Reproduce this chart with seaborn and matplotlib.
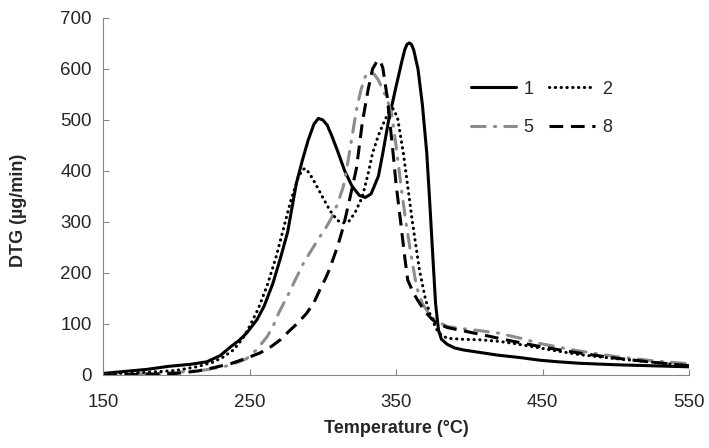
import matplotlib

matplotlib.use("Agg")
import matplotlib.pyplot as plt
import pandas as pd
import seaborn as sns

# DTG curves, one temperature/value pair list per sample
temp_1 = [150, 165, 180, 195, 210, 221, 230, 237, 243, 248, 255, 260, 266, 271, 276,
          282, 286, 290, 294, 297, 300, 303, 306, 310, 315, 320, 325, 329, 333, 338,
          341, 345, 350, 354, 356, 357.5, 359, 360.5, 362, 365, 368, 371, 373, 375, 377,
          379, 381, 385, 390, 396, 410, 419, 435, 448, 460, 475, 500, 525, 550]
dtg_1 = [3, 7, 11, 17, 21, 26, 38, 55, 68, 82, 108, 135, 180, 228, 280,
         376, 420, 460, 492, 503, 500, 490, 470, 440, 400, 370, 352, 348, 355, 390,
         435, 500, 565, 615, 638, 648, 651, 648, 638, 600, 530, 435, 340, 239, 140,
         88, 70, 60, 53, 49, 43, 39, 34, 29, 26, 23, 20, 18, 16]

temp_2 = [150, 170, 190, 200, 214, 225, 232, 239, 245, 250, 256, 262, 268, 273, 278,
          283, 286, 288, 291, 295, 300, 305, 310, 314, 318, 322, 327, 331, 334, 338,
          342, 345, 348, 351, 355, 358, 361, 364, 366, 370, 373, 376, 378, 381, 385,
          395, 407, 420, 430, 448, 460, 475, 500, 525, 550]
dtg_2 = [2, 4, 7, 9, 16, 25, 35, 49, 70, 95, 130, 175, 230, 285, 340,
         385, 402, 405, 395, 375, 348, 322, 303, 298, 302, 318, 349, 395, 435, 470,
         497, 515, 522, 505, 435, 370, 304, 245, 206, 150, 121, 100, 88, 78, 72,
         70, 69, 66, 62, 53, 47, 40, 32, 25, 18]

temp_5 = [150, 175, 200, 220, 235, 243, 248, 255, 262, 266, 270, 276, 281, 287, 293,
          298, 302, 306, 310, 314, 317, 320, 323, 326, 329, 332, 335, 338, 341, 344,
          347, 350, 354, 357, 360, 364, 368, 373, 378, 385, 395, 407, 420, 435, 448,
          460, 475, 500, 525, 550]
dtg_5 = [0, 2, 5, 10, 18, 26, 32, 50, 75, 95, 122, 155, 185, 220, 248,
         271, 288, 308, 335, 369, 415, 467, 520, 558, 585, 593, 590, 578, 559, 540,
         513, 450, 357, 295, 240, 173, 140, 118, 105, 95, 91, 87, 82, 72, 62,
         55, 47, 36, 28, 22]

temp_8 = [150, 175, 200, 215, 225, 237, 248, 257, 265, 271, 277, 283, 289, 294, 298,
          302, 305, 307, 310, 314, 318, 323, 327, 331, 334, 337, 339, 341, 344, 346,
          348, 350, 353, 356, 358, 362, 366, 370, 373, 377, 385, 395, 407, 420, 430,
          448, 460, 475, 500, 525, 550]
dtg_8 = [0, 1, 3, 8, 14, 22, 33, 43, 56, 69, 86, 102, 121, 142, 167,
         190, 210, 227, 251, 290, 340, 405, 495, 560, 600, 615, 617, 602, 545, 490,
         435, 375, 304, 230, 186, 160, 141, 124, 114, 103, 93, 87, 80, 72, 66,
         56, 50, 43, 33, 25, 18]

x_ticks = [150, 250, 350, 450, 550]
y_ticks = [0, 100, 200, 300, 400, 500, 600, 700]

sns.set_style("ticks")
plt.rcParams["font.family"] = ["Liberation Sans", "DejaVu Sans"]

styles = {
    "1": dict(color="black", linestyle="-"),
    "5": dict(color="#8c8c8c", linestyle=(0, (4.5, 3, 0.4, 3)), dash_capstyle="round"),
    "2": dict(color="black", linestyle=(0, (0.1, 1.8)), dash_capstyle="round"),
    "8": dict(color="black", linestyle=(0, (4.5, 2.5))),
}
series = {
    "1": (temp_1, dtg_1),
    "5": (temp_5, dtg_5),
    "2": (temp_2, dtg_2),
    "8": (temp_8, dtg_8),
}

fig, ax = plt.subplots(figsize=(7.09, 4.48), dpi=100)
fig.subplots_adjust(left=0.1453, right=0.9718, top=0.96, bottom=0.163)

for name, (t, v) in series.items():
    df = pd.DataFrame({"Temperature": t, "DTG": v})
    sns.lineplot(data=df, x="Temperature", y="DTG", ax=ax, lw=2.2,
                 label=name, sort=False, **styles[name])

ax.set_xlim(150, 550)
ax.set_ylim(0, 700)
ax.set_xticks(x_ticks)
ax.set_yticks(y_ticks)
ax.tick_params(direction="in", length=4, color="#888888", labelsize=13.5)
ax.tick_params(axis="x", pad=14)
ax.tick_params(axis="y", pad=8)
for side in ["left", "bottom"]:
    ax.spines[side].set_color("#888888")
sns.despine(ax=ax)

ax.set_xlabel("Temperature (°C)", fontsize=13, fontweight="bold", labelpad=6)
ax.set_ylabel("DTG (µg/min)", fontsize=13, fontweight="bold")
ax.yaxis.set_label_coords(-0.13, 0.46)

ax.legend(loc="upper left", bbox_to_anchor=(0.6, 0.87), ncol=2, frameon=False,
          fontsize=13, handlelength=2.5, columnspacing=0.9, labelspacing=1.2,
          handletextpad=0.4)

fig.savefig("out.png", dpi=100)
plt.close(fig)
